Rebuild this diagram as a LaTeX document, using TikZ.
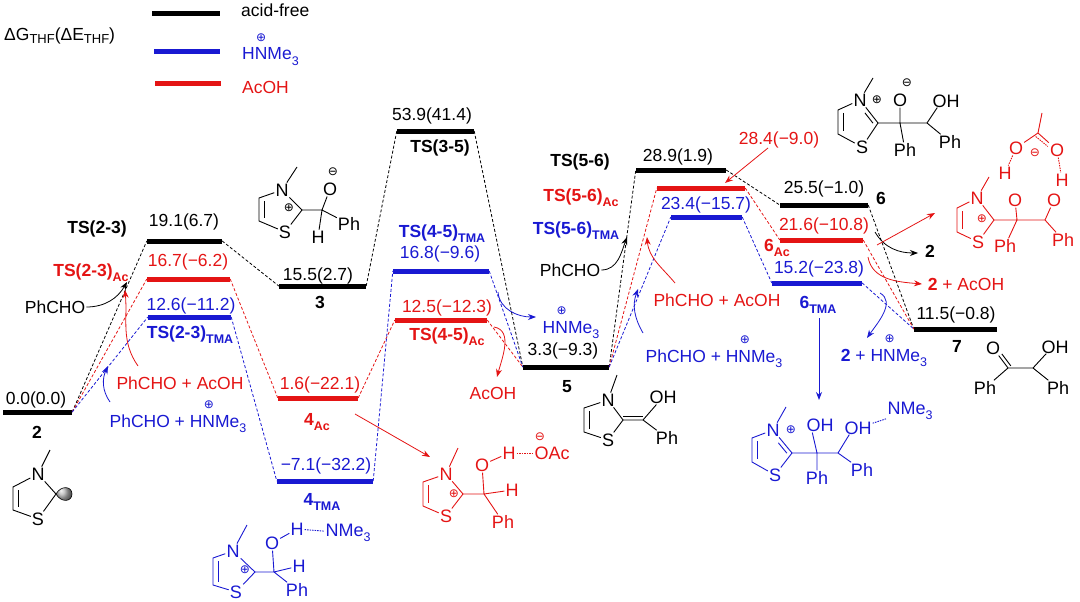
\documentclass[tikz,border=0pt]{standalone}
\usepackage{fontspec}
\setmainfont{Liberation Sans}
\newfontfamily\symfont{DejaVu Sans}
\usetikzlibrary{positioning,calc,arrows.meta}
\definecolor{acred}{RGB}{228,20,20}
\definecolor{tmablue}{RGB}{25,25,210}
\newcommand{\lsub}[1]{\raisebox{-0.3em}{\fontsize{12.5}{12.5}\selectfont #1}}
\newcommand{\chg}[1]{{\symfont\fontsize{12}{12}\selectfont #1}}
\newcommand{\hnme}{H\makebox[0pt][l]{\makebox[0.722em]{\raisebox{1.05em}{\chg{⊕}}}}NMe\lsub{3}}
\begin{document}
\begin{tikzpicture}[x=1pt, y=1pt,
		lvl/.style={fill, inner sep=0pt, minimum height=5pt, minimum width=#1},
		con/.style={dash pattern=on 3pt off 2pt, line width=0.8pt},
		arr/.style={-{Stealth[length=8pt,width=6pt]}, line width=0.8pt},
		val/.style={inner sep=1pt, font=\fontsize{17.5}{19}\selectfont},
		lab/.style={inner sep=1pt, font=\fontsize{17.5}{19}\selectfont\bfseries},
		atom/.style={inner sep=1pt, font=\fontsize{18}{19}\selectfont},
		bond/.style={line width=0.9pt},
		hb/.style={dash pattern=on 1.5pt off 1pt, line width=0.9pt}]
		\useasboundingbox (0,0) rectangle (1080,-602);
		% legend
		\node[val, anchor=base west] (hdr) at (3,-41) {ΔG{\fontsize{13}{13}\selectfont\raisebox{-0.2em}{THF}}(ΔE{\fontsize{13}{13}\selectfont\raisebox{-0.2em}{THF}})};
		\node[lvl=68pt] (kaf) at (186,-14) {};
		\node[lvl=66pt, tmablue] (ktma) at (187,-52) {};
		\node[lvl=66pt, acred] (kac) at (188,-84) {};
		\node[val, anchor=base west] (taf) at (240,-17) {acid-free};
		\node[val, tmablue, anchor=base west] (ttma) at (241,-60) {\hnme};
		\node[val, acred, anchor=base west] (tac) at (241,-94) {AcOH};
		% levels
		\node[lvl=69pt] (n2) at (37.5,-412) {};
		\node[lvl=75pt] (ts23) at (184.5,-241) {};
		\node[lvl=83pt, acred] (ts23ac) at (188.5,-279) {};
		\node[lvl=83pt, tmablue] (ts23tma) at (189.5,-317) {};
		\node[lvl=87pt] (n3) at (322.5,-286) {};
		\node[lvl=80pt, acred] (n4ac) at (318,-398) {};
		\node[lvl=96pt, tmablue] (n4tma) at (325,-481) {};
		\node[lvl=77pt] (ts35) at (435.5,-131) {};
		\node[lvl=96pt, tmablue] (ts45tma) at (441,-271) {};
		\node[lvl=92pt, acred] (ts45ac) at (441,-320) {};
		\node[lvl=86pt] (n5) at (566,-367) {};
		\node[lvl=90pt] (ts56) at (681,-170) {};
		\node[lvl=88pt, acred] (ts56ac) at (701,-188) {};
		\node[lvl=71pt, tmablue] (ts56tma) at (706.5,-217) {};
		\node[lvl=88pt] (n6) at (824,-205) {};
		\node[lvl=83pt, acred] (n6ac) at (821.5,-240) {};
		\node[lvl=90pt, tmablue] (n6tma) at (817,-283) {};
		\node[lvl=83pt] (n7) at (955.5,-329) {};
		\draw[con] (n2.east) -- (ts23.west) (ts23.east) -- (n3.west) (n3.east) -- (ts35.west) (ts35.east) -- (n5.west)
			(n5.east) -- (ts56.west) (ts56.east) -- (n6.west) (n6.east) -- (n7.west);
		\draw[con, acred] (n2.east) -- (ts23ac.west) (ts23ac.east) -- (n4ac.west) (n4ac.east) -- (ts45ac.west) (ts45ac.east) -- (n5.west)
			(n5.east) -- (ts56ac.west) (ts56ac.east) -- (n6ac.west) (n6ac.east) -- (n7.west);
		\draw[con, tmablue] (n2.east) -- (ts23tma.west) (ts23tma.east) -- (n4tma.west) (n4tma.east) -- (ts45tma.west) (ts45tma.east) -- (n5.west)
			(n5.east) -- (ts56tma.west) (ts56tma.east) -- (n6tma.west) (n6tma.east) -- (n7.west);
		% values and names
		\node[val] (v2) at (36,-400) {0.0(0.0)};
		\node[lab] (l2) at (37,-432) {2};
		\node[val] (v23) at (184,-222) {19.1(6.7)};
		\node[lab] (l23) at (97,-229) {TS(2-3)};
		\node[val, acred] (v23ac) at (188,-262) {16.7(−6.2)};
		\node[lab, acred] (l23ac) at (91,-273) {TS(2-3)\lsub{Ac}};
		\node[val, tmablue] (v23tma) at (191,-306) {12.6(−11.2)};
		\node[lab, tmablue] (l23tma) at (190,-335) {TS(2-3)\lsub{TMA}};
		\node[val] (v3) at (318,-276) {15.5(2.7)};
		\node[lab] (l3) at (320,-302) {3};
		\node[val, acred] (v4ac) at (320,-385) {1.6(−22.1)};
		\node[lab, acred] (l4ac) at (317,-422) {4\lsub{Ac}};
		\node[val, tmablue] (v4tma) at (326,-466) {−7.1(−32.2)};
		\node[lab, tmablue] (l4tma) at (322,-502) {4\lsub{TMA}};
		\node[val] (v35) at (432,-116) {53.9(41.4)};
		\node[lab] (l35) at (440,-148) {TS(3-5)};
		\node[lab, tmablue] (l45tma) at (442,-234) {TS(4-5)\lsub{TMA}};
		\node[val, tmablue] (v45tma) at (440,-254) {16.8(−9.6)};
		\node[val, acred] (v45ac) at (447,-308) {12.5(−12.3)};
		\node[lab, acred] (l45ac) at (447,-337) {TS(4-5)\lsub{Ac}};
		\node[val] (v5) at (563,-351) {3.3(−9.3)};
		\node[lab] (l5) at (567,-387) {5};
		\node[val] (v56) at (678,-157) {28.9(1.9)};
		\node[lab] (l56) at (580,-162) {TS(5-6)};
		\node[val, acred] (v56ac) at (779,-140) {28.4(−9.0)};
		\node[lab, acred] (l56ac) at (581,-198) {TS(5-6)\lsub{Ac}};
		\node[val, tmablue] (v56tma) at (706,-205) {23.4(−15.7)};
		\node[lab, tmablue] (l56tma) at (576,-231) {TS(5-6)\lsub{TMA}};
		\node[val] (v6) at (824,-189) {25.5(−1.0)};
		\node[lab] (l6) at (881,-198) {6};
		\node[val, acred] (v6ac) at (824,-226) {21.6(−10.8)};
		\node[lab, acred] (l6ac) at (777,-248) {6\lsub{Ac}};
		\node[val, tmablue] (v6tma) at (819,-269) {15.2(−23.8)};
		\node[lab, tmablue] (l6tma) at (818,-305) {6\lsub{TMA}};
		\node[val] (v7) at (956,-315) {11.5(−0.8)};
		\node[lab] (l7) at (957,-346) {7};
		% reagents and arrows
		\node[val] (pc1) at (55,-307) {PhCHO};
		\coordinate (pc1e) at (127,-282);
		\draw[arr] (pc1.east) to[out=0, in=-120] (pc1e);
		\node[val, acred] (pa1) at (180,-383) {PhCHO + AcOH};
		\coordinate (pa1s) at (138,-366);
		\coordinate (pa1e) at (125,-290);
		\draw[arr, acred] (pa1s) to[out=125, in=-85] (pa1e);
		\node[val, tmablue, anchor=base] (pb1) at (178,-427) {PhCHO + \hnme};
		\coordinate (pb1s) at (110,-402);
		\coordinate (pb1e) at (108,-366);
		\draw[arr, tmablue] (pb1s) to[out=125, in=-115] (pb1e);
		\node[val, tmablue, anchor=base] (hn1) at (571,-333) {\hnme};
		\coordinate (hn1s) at (498,-292);
		\coordinate (hn1e) at (536,-317);
		\draw[arr, tmablue] (hn1s) to[out=-85, in=180] (hn1e);
		\node[val, acred] (ac1) at (493,-393) {AcOH};
		\coordinate (ac1s) at (494,-327);
		\coordinate (ac1e) at (497,-377);
		\draw[arr, acred] (ac1s) to[out=-10, in=75] (ac1e);
		\node[val] (pc2) at (570,-270) {PhCHO};
		\coordinate (pc2e) at (627,-237);
		\draw[arr] (pc2.east) to[out=0, in=-110] (pc2e);
		\node[val, acred] (pa2) at (717,-300) {PhCHO + AcOH};
		\coordinate (pa2s) at (675,-283);
		\coordinate (pa2e) at (647,-237);
		\draw[arr, acred] (pa2s) to[out=130, in=-85] (pa2e);
		\node[val, tmablue, anchor=base] (pb2) at (714,-362) {PhCHO + \hnme};
		\coordinate (pb2s) at (643,-333);
		\coordinate (pb2e) at (638,-289);
		\draw[arr, tmablue] (pb2s) to[out=120, in=-110] (pb2e);
		\coordinate (v56acs) at (768,-148);
		\coordinate (v56ace) at (725,-183);
		\draw[arr, acred] (v56acs) -- (v56ace);
		\node[lab] (two1) at (930,-251) {2};
		\coordinate (two1s) at (875,-232);
		\coordinate (two1e) at (918,-253);
		\draw[arr] (two1s) to[out=-60, in=180] (two1e);
		\coordinate (g6s) at (877,-245);
		\coordinate (g6e) at (935,-213);
		\draw[arr, acred] (g6s) -- (g6e);
		\node[val, acred] (ta1) at (966,-284) {\textbf{2} + AcOH};
		\coordinate (ta1s) at (868,-257);
		\coordinate (ta1e) at (922,-284);
		\draw[arr, acred] (ta1s) to[out=-80, in=175] (ta1e);
		\node[val, tmablue, anchor=base] (tb1) at (884,-361) {\textbf{2} + \hnme};
		\coordinate (tb1s) at (880,-293);
		\coordinate (tb1e) at (867,-338);
		\draw[arr, tmablue] (tb1s) to[out=-30, in=55] (tb1e);
		\coordinate (h6s) at (819,-318);
		\coordinate (h6e) at (819,-400);
		\draw[arr, tmablue] (h6s) -- (h6e);
		\coordinate (c4s) at (355,-414);
		\coordinate (c4e) at (430,-457);
		\draw[arr, acred] (c4s) -- (c4e);
		% structure 2
		\node[atom] (aN) at (38,-474) {N};
		\node[atom] (aS) at (38,-519) {S};
		\coordinate (aMe) at (50,-450);
		\coordinate (aC4) at (13,-487);
		\coordinate (aC5) at (13,-510);
		\coordinate (aC2) at (56,-494);
		\draw[bond] (aMe) -- (aN) -- (aC4) -- (aC5) -- (aS) -- (aC2) -- (aN);
		\draw[bond] ($(aC4)+(5,-3)$) -- ($(aC5)+(5,3)$);
		\shade[ball color=gray!60, draw=black, line width=0.6pt] (aC2) .. controls (61,-485) and (72,-486) .. (72,-494) .. controls (72,-502) and (61,-503) .. (aC2);
		% structure 3
		\node[atom] (bN) at (282,-190) {N};
		\node[atom] (bS) at (285,-232) {S};
		\node[atom] (bO) at (330,-189) {O};
		\node[atom] (bPh) at (349,-224) {Ph};
		\node[atom] (bH) at (318,-237) {H};
		\node[atom] (bpl) at (289,-208) {\chg{⊕}};
		\node[atom] (bmi) at (333,-172) {\chg{⊖}};
		\coordinate (bMe) at (297,-167);
		\coordinate (bC4) at (259,-198);
		\coordinate (bC5) at (259,-221);
		\coordinate (bC2) at (302,-210);
		\coordinate (bC) at (322,-210);
		\draw[bond] (bMe) -- (bN) -- (bC4) -- (bC5) -- (bS) -- (bC2) -- (bN);
		\draw[bond] ($(bC4)+(5,-3)$) -- ($(bC5)+(5,3)$);
		\draw[bond] (bC2) -- (bC) -- (bO) (bC) -- (bPh) (bC) -- (bH);
		% structure 4Ac
		\begin{scope}[acred]
			\node[atom] (cN) at (446,-474) {N};
			\node[atom] (cS) at (446,-516) {S};
			\node[atom] (cO) at (482,-465) {O};
			\node[atom] (cH) at (509,-453) {H};
			\node[atom] (cOAc) at (552,-453) {OAc};
			\node[atom] (cH2) at (512,-490) {H};
			\node[atom] (cPh) at (503,-522) {Ph};
			\node[atom] (cpl) at (454,-494) {\chg{⊕}};
			\node[atom] (cmi) at (540,-437) {\chg{⊖}};
			\coordinate (cMe) at (458,-448);
			\coordinate (cC4) at (423,-482);
			\coordinate (cC5) at (423,-506);
			\coordinate (cC2) at (463,-494);
			\coordinate (cC) at (484,-494);
			\draw[bond] (cMe) -- (cN) -- (cC4) -- (cC5) -- (cS) -- (cC2) -- (cN);
			\draw[bond] ($(cC4)+(5,-3)$) -- ($(cC5)+(5,3)$);
			\draw[bond] (cC2) -- (cC) -- (cO) -- (cH) (cC) -- (cH2) (cC) -- (cPh);
			\draw[hb] (cH) -- (cOAc);
		\end{scope}
		% structure 4TMA
		\begin{scope}[tmablue]
			\node[atom] (dN) at (233,-551) {N};
			\node[atom] (dS) at (236,-592) {S};
			\node[atom] (dO) at (272,-543) {O};
			\node[atom] (dH) at (297,-529) {H};
			\node[atom] (dNMe) at (348,-533) {NMe\lsub{3}};
			\node[atom] (dH2) at (299,-566) {H};
			\node[atom] (dPh) at (297,-590) {Ph};
			\node[atom] (dpl) at (245,-570) {\chg{⊕}};
			\coordinate (dMe) at (247,-525);
			\coordinate (dC4) at (213,-558);
			\coordinate (dC5) at (213,-585);
			\coordinate (dC2) at (255,-572);
			\coordinate (dC) at (274,-572);
			\draw[bond] (dMe) -- (dN) -- (dC4) -- (dC5) -- (dS) -- (dC2) -- (dN);
			\draw[bond] ($(dC4)+(5,-3)$) -- ($(dC5)+(5,3)$);
			\draw[bond] (dC2) -- (dC) -- (dO) -- (dH) (dC) -- (dH2) (dC) -- (dPh);
			\draw[hb] (dH) -- (dNMe);
		\end{scope}
		% structure 5
		\node[atom] (eN) at (608,-400) {N};
		\node[atom] (eS) at (608,-440) {S};
		\node[atom] (eOH) at (663,-397) {OH};
		\node[atom] (ePh) at (667,-438) {Ph};
		\coordinate (eMe) at (617,-375);
		\coordinate (eC4) at (584,-408);
		\coordinate (eC5) at (584,-432);
		\coordinate (eC2) at (623,-420);
		\coordinate (eC) at (643,-420);
		\draw[bond] (eMe) -- (eN) -- (eC4) -- (eC5) -- (eS) -- (eC2) -- (eN);
		\draw[bond] ($(eC4)+(5,-3)$) -- ($(eC5)+(5,3)$);
		\draw[bond] (eC2) -- (eC) -- (eOH) (eC) -- (ePh);
		\draw[bond] ($(eC2)+(0,3.5)$) -- ($(eC)+(0,3.5)$);
		% structure 6
		\node[atom] (fN) at (860,-100) {N};
		\node[atom] (fpl) at (877,-100) {\chg{⊕}};
		\node[atom] (fS) at (862,-147) {S};
		\node[atom] (fO) at (900,-100) {O};
		\node[atom] (fmi) at (907,-83) {\chg{⊖}};
		\node[atom] (fOH) at (946,-101) {OH};
		\node[atom] (fPh1) at (905,-150) {Ph};
		\node[atom] (fPh2) at (950,-142) {Ph};
		\coordinate (fMe) at (873,-78);
		\coordinate (fC4) at (838,-110);
		\coordinate (fC5) at (838,-134);
		\coordinate (fC2) at (878,-123);
		\coordinate (fC) at (900,-123);
		\coordinate (fCb) at (927,-123);
		\draw[bond] (fMe) -- (fN) -- (fC4) -- (fC5) -- (fS) -- (fC2) -- (fN);
		\draw[bond] ($(fC4)+(5,-3)$) -- ($(fC5)+(5,3)$);
		\draw[bond] ($(fN)!0.45!(fC2)+(-3.2,-2.5)$) -- ($(fN)!0.9!(fC2)+(-3.2,-2.5)$);
		\draw[bond] (fC2) -- (fC) -- (fO) (fC) -- (fPh1) (fC) -- (fCb) -- ($(fOH.south west)+(6,1)$) (fCb) -- (fPh2);
		% structure 6Ac
		\begin{scope}[acred]
			\node[atom] (gN) at (977,-198) {N};
			\node[atom] (gS) at (978,-242) {S};
			\node[atom] (gpl) at (982,-219) {\chg{⊕}};
			\node[atom] (gO1) at (1015,-200) {O};
			\node[atom] (gH1) at (1005,-173) {H};
			\node[atom] (gOa) at (1016,-148) {O};
			\node[atom] (gOb) at (1057,-150) {O};
			\node[atom] (gmi) at (1035,-153) {\chg{⊖}};
			\node[atom] (gH2) at (1062,-180) {H};
			\node[atom] (gO2) at (1054,-200) {O};
			\node[atom] (gPh1) at (1005,-246) {Ph};
			\node[atom] (gPh2) at (1063,-240) {Ph};
			\coordinate (gMe) at (989,-177);
			\coordinate (gC4) at (957,-208);
			\coordinate (gC5) at (957,-232);
			\coordinate (gC2) at (994,-220);
			\coordinate (gC) at (1017,-220);
			\coordinate (gCb) at (1045,-220);
			\coordinate (gCa) at (1038,-133);
			\coordinate (gMa) at (1042,-113);
			\draw[bond] (gMe) -- (gN) -- (gC4) -- (gC5) -- (gS) -- (gC2) -- (gN);
			\draw[bond] ($(gC4)+(5,-3)$) -- ($(gC5)+(5,3)$);
			\draw[bond] (gC2) -- (gC) -- (gO1) (gC) -- (gPh1) (gC) -- (gCb) -- (gO2) (gCb) -- (gPh2);
			\draw[bond] (gOa) -- (gCa) -- (gMa) (gCa) -- (gOb);
			\draw[hb] ($(gCa)+(-2.3,-3.5)$) -- ($(gOb.north west)+(-1,-4)$);
			\draw[hb] (gOa) -- (gH1) (gOb) -- (gH2);
		\end{scope}
		% structure 6TMA
		\begin{scope}[tmablue]
			\node[atom] (hN) at (773,-430) {N};
			\node[atom] (hpl) at (791,-430) {\chg{⊕}};
			\node[atom] (hS) at (775,-475) {S};
			\node[atom] (hOH1) at (820,-425) {OH};
			\node[atom] (hOH2) at (858,-428) {OH};
			\node[atom] (hNMe) at (910,-411) {NMe\lsub{3}};
			\node[atom] (hPh1) at (817,-478) {Ph};
			\node[atom] (hPh2) at (862,-470) {Ph};
			\coordinate (hMe) at (786,-407);
			\coordinate (hC4) at (752,-438);
			\coordinate (hC5) at (752,-462);
			\coordinate (hC2) at (792,-453);
			\coordinate (hC) at (817,-453);
			\coordinate (hCb) at (838,-453);
			\draw[bond] (hMe) -- (hN) -- (hC4) -- (hC5) -- (hS) -- (hC2) -- (hN);
			\draw[bond] ($(hC4)+(5,-3)$) -- ($(hC5)+(5,3)$);
			\draw[bond] ($(hN)!0.45!(hC2)+(-3.2,-2.5)$) -- ($(hN)!0.9!(hC2)+(-3.2,-2.5)$);
			\draw[bond] (hC2) -- (hC) -- ($(hOH1.south west)+(7,0)$) (hC) -- (hPh1) (hC) -- (hCb) -- ($(hOH2.south west)+(6,1)$) (hCb) -- (hPh2);
			\draw[hb] (hOH2) -- (hNMe);
		\end{scope}
		% structure 7
		\node[atom] (iO) at (993,-348) {O};
		\node[atom] (iOH) at (1055,-347) {OH};
		\node[atom] (iPh1) at (985,-388) {Ph};
		\node[atom] (iPh2) at (1058,-388) {Ph};
		\coordinate (iC) at (1008,-368);
		\coordinate (iCb) at (1033,-368);
		\draw[bond] (iO) -- (iC) -- (iCb) -- ($(iOH.south west)+(6,1)$) (iC) -- (iPh1) (iCb) -- (iPh2);
		\draw[bond] ($(iO)!0.4!(iC)+(2.8,2.1)$) -- ($(iC)+(2.8,2.1)$);
	\end{tikzpicture}
\end{document}
